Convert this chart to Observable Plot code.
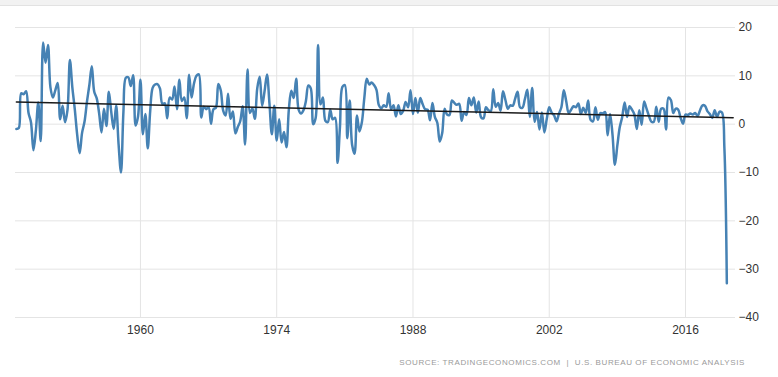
<!DOCTYPE html>
<html>
<head>
<meta charset="utf-8">
<script src="https://cdn.jsdelivr.net/npm/d3@7"></script>
<script src="https://cdn.jsdelivr.net/npm/@observablehq/plot@0.6"></script>
<style>
  html, body { margin: 0; padding: 0; background: #fff; width: 778px; height: 377px; overflow: hidden; }
  #topbar { height: 5px; background: #f2f2f2; border-bottom: 1px solid #e2e2e2; }
  #caption { position: absolute; top: 357px; right: 33px; font-family: "Liberation Sans", Arial, sans-serif;
             font-size: 8px; letter-spacing: 0.6px; color: #9a9a9a; line-height: 12px; white-space: nowrap; }
  svg { display: block; }
</style>
</head>
<body>
<div id="topbar"></div>
<div id="chart"></div>
<div id="caption">SOURCE: TRADINGECONOMICS.COM&nbsp; | &nbsp;U.S. BUREAU OF ECONOMIC ANALYSIS</div>
<script>
// US GDP growth rate, quarterly, annualized (%), starting 1947 Q2
const firstYear = 1947;
const firstQuarter = 2;
const growth = [
  -1.0, -0.8, 6.4,                 // 1947 Q2-Q4
  6.2, 6.8, 2.3, 0.4,              // 1948
  -5.4, -1.4, 4.5, -3.5,           // 1949
  16.9, 12.7, 16.4, 7.6,           // 1950
  5.5, 7.0, 8.5, 1.0,              // 1951
  3.8, 0.4, 2.9, 13.3,             // 1952
  7.6, 3.1, -2.2, -6.0,            // 1953
  -1.8, 0.5, 4.6, 8.1,             // 1954
  12.0, 6.7, 5.4, 2.3,             // 1955
  -1.7, 3.2, -0.4, 6.7,            // 1956
  2.5, -1.0, 3.9, -4.1,            // 1957
  -10.0, 2.6, 9.6, 9.7,            // 1958
  7.9, 10.1, -0.3, 1.6,            // 1959
  9.2, -2.1, 2.1, -5.0,            // 1960
  2.7, 7.5, 8.2, 8.3,              // 1961
  7.4, 4.2, 4.3, 1.2,              // 1962
  5.5, 5.1, 7.8, 3.1,              // 1963
  9.2, 4.8, 5.5, 1.2,              // 1964
  10.2, 5.5, 8.4, 10.0,            // 1965
  10.3, 1.4, 3.6, 3.1,             // 1966
  3.5, 0.1, 3.1, 3.4,              // 1967
  8.3, 7.0, 2.8, 1.8,              // 1968
  6.3, 1.1, 2.6, -1.9,             // 1969
  -0.6, 0.6, 3.7, -4.2,            // 1970
  11.3, 2.3, 3.3, 1.1,             // 1971
  7.4, 9.8, 3.8, 6.8,              // 1972
  10.3, 4.4, -2.1, 3.8,            // 1973
  -3.4, 1.0, -3.8, -1.6,           // 1974
  -4.8, 3.1, 6.9, 5.4,             // 1975
  9.4, 3.0, 2.2, 2.9,              // 1976
  4.8, 8.0, 7.4, 0.0,              // 1977
  1.3, 16.4, 4.1, 5.5,             // 1978
  0.7, 0.4, 3.0, 1.0,              // 1979
  1.3, -8.0, -0.5, 7.7,            // 1980
  8.1, -2.9, 4.9, -4.3,            // 1981
  -6.1, 1.8, -1.5, 0.4,            // 1982
  5.4, 9.4, 8.2, 8.6,              // 1983
  8.1, 7.1, 3.9, 3.3,              // 1984
  3.9, 3.6, 6.4, 3.1,              // 1985
  3.9, 1.6, 3.9, 2.1,              // 1986
  2.8, 4.6, 3.5, 7.0,              // 1987
  2.1, 5.4, 2.4, 5.4,              // 1988
  4.1, 3.1, 3.0, 0.8,              // 1989
  4.4, 1.5, 0.3, -3.6,             // 1990
  -1.9, 3.2, 2.0, 1.9,             // 1991
  4.9, 4.4, 4.0, 4.2,              // 1992
  0.7, 2.5, 1.9, 5.4,              // 1993
  3.9, 5.5, 2.4, 4.7,              // 1994
  1.4, 1.2, 3.5, 2.9,              // 1995
  2.7, 7.2, 3.6, 4.4,              // 1996
  2.8, 6.8, 5.0, 3.2,              // 1997
  3.9, 3.8, 5.3, 6.7,              // 1998
  3.5, 3.4, 5.2, 7.1,              // 1999
  1.5, 7.5, 0.5, 2.5,              // 2000
  -1.1, 2.4, -1.7, 1.1,            // 2001
  3.5, 2.4, 1.8, 0.6,              // 2002
  2.2, 3.5, 7.0, 4.7,              // 2003
  2.3, 3.0, 3.7, 3.5,              // 2004
  4.3, 2.1, 3.4, 2.3,              // 2005
  4.9, 0.9, 0.6, 3.5,              // 2006
  0.9, 2.3, 2.2, 2.5,              // 2007
  -2.3, 2.1, -2.1, -8.4,           // 2008
  -4.4, -0.6, 1.5, 4.5,            // 2009
  1.5, 3.7, 3.0, 2.0,              // 2010
  -1.0, 2.9, -0.1, 4.7,            // 2011
  3.2, 1.7, 0.5, 0.5,              // 2012
  3.6, 0.5, 3.2, 3.2,              // 2013
  -1.1, 5.5, 5.0, 2.3,             // 2014
  3.2, 3.0, 1.3, 0.1,              // 2015
  2.0, 1.9, 2.2, 2.0,              // 2016
  2.3, 1.7, 2.9, 3.9,              // 2017
  3.8, 2.7, 2.1, 1.3,              // 2018
  2.9, 1.5, 2.6, 2.4,              // 2019
  -5.0, -32.9                      // 2020 Q1-Q2
];

// Trend line (start and end values)
const trendYears = [1947.25, 2020.9];
const trendValues = [4.6, 1.35];

const xTicks = [1960, 1974, 1988, 2002, 2016];
const yTicks = [20, 10, 0, -10, -20, -30, -40];

const series = growth.map((v, i) => ({
  t: firstYear + (firstQuarter - 1 + i) / 4,
  v
}));
const trend = trendYears.map((t, i) => ({t, v: trendValues[i]}));

const chart = Plot.plot({
  width: 778,
  height: 341,
  marginTop: 21,
  marginBottom: 30,
  marginLeft: 15,
  marginRight: 43,
  style: {fontFamily: "'Liberation Sans', Arial, sans-serif", fontSize: "12px", color: "#333", background: "#fff"},
  x: {domain: [1947.16, 2021.14], ticks: xTicks, tickFormat: d => String(d), tickSize: 0, tickPadding: 8, label: null},
  y: {domain: [-40, 20], ticks: yTicks, tickSize: 0, tickPadding: 3, label: null},
  marks: [
    Plot.ruleY(yTicks, {stroke: "#e4e4e4", strokeWidth: 1}),
    Plot.ruleX(xTicks, {stroke: "#e4e4e4", strokeWidth: 1}),
    Plot.line(series, {x: "t", y: "v", stroke: "#4682b4", strokeWidth: 2.5, curve: "catmull-rom"}),
    Plot.line(trend, {x: "t", y: "v", stroke: "#1a1a1a", strokeWidth: 1.5}),
    Plot.axisY({anchor: "right", ticks: yTicks, tickSize: 0, tickPadding: 3, label: null, fill: "#333"}),
    Plot.axisX({ticks: xTicks, tickFormat: d => String(d), tickSize: 0, tickPadding: 8, label: null, fill: "#333"})
  ]
});
document.getElementById("chart").appendChild(chart);
</script>
</body>
</html>
